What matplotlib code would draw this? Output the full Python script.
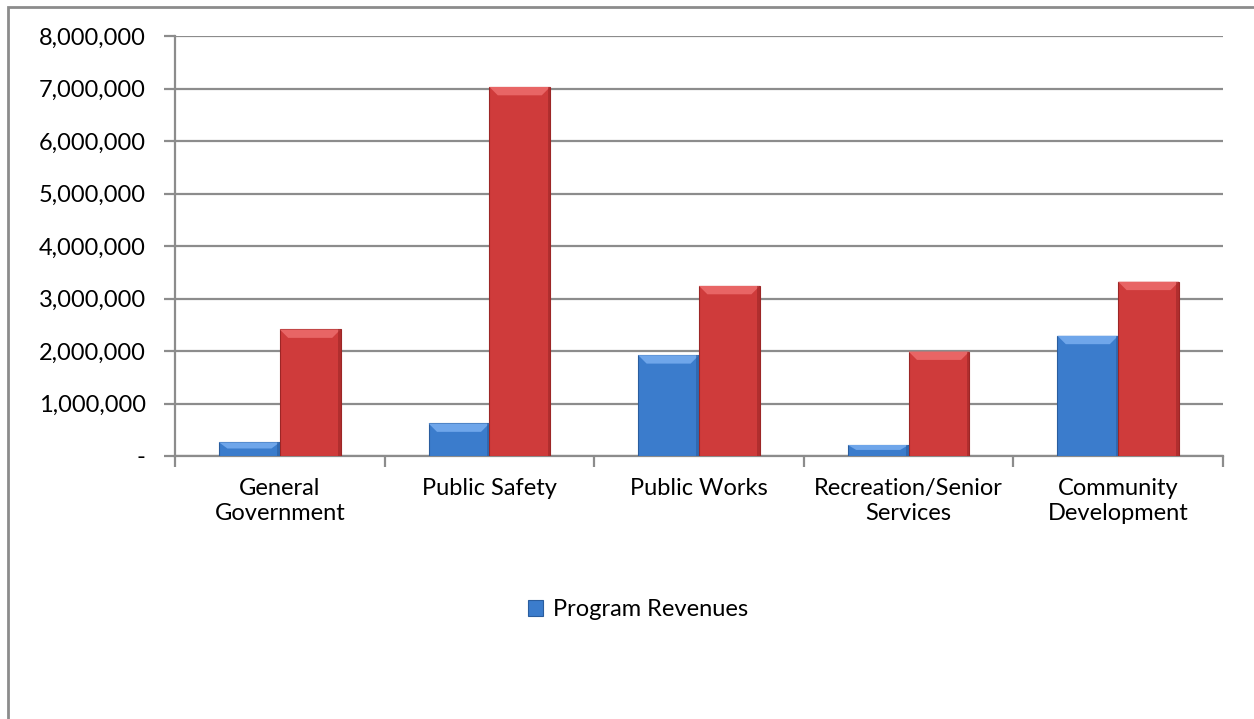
import numpy as np
import matplotlib
matplotlib.use("Agg")
import matplotlib.pyplot as plt
from matplotlib.patches import Polygon, Rectangle
from matplotlib.ticker import FuncFormatter, FixedLocator

# dane z wykresu
categories = ["General\nGovernment", "Public Safety", "Public Works",
              "Recreation/Senior\nServices", "Community\nDevelopment"]
program_revenues = [260000, 620000, 1920000, 210000, 2290000]
expenses = [2410000, 7030000, 3240000, 1990000, 3320000]
legend_label = "Program Revenues"

y_ticks = np.arange(0, 8000001, 1000000)

plt.rcParams['font.family'] = ['Lato', 'DejaVu Sans']

fig = plt.figure(figsize=(12.54, 7.19), dpi=100)
ax = fig.add_axes([175/1254, 1-456/719, 1048/1254, 420/719])

# ramka wykresu (tylko lewa i górna krawędź widoczna)
fig.patches.append(Rectangle((8/1254, -0.1), 1.2, 1-7/719+0.1, transform=fig.transFigure,
                             fill=False, edgecolor="#8c8c8c", linewidth=2))

x = np.arange(len(categories))
w = 0.29

def bevel_bars(xs, vals, face, light, dark):
    bars = ax.bar(xs, vals, width=w, color=face, edgecolor=dark, linewidth=0.8, zorder=3)
    bh = 160000  # wysokość skosu
    bw = 0.04
    for xc, v in zip(xs, vals):
        x0, x1 = xc - w/2, xc + w/2
        h = min(bh, v * 0.45)
        ax.add_patch(Polygon([[x0, v], [x1, v], [x1 - bw, v - h], [x0 + bw, v - h]],
                             closed=True, facecolor=light, edgecolor="none", zorder=4))
        ax.add_patch(Polygon([[x1, v], [x1, 0], [x1 - 0.012, 0], [x1 - 0.012, v]],
                             closed=True, facecolor=dark, edgecolor="none", alpha=0.6, zorder=4))
    return bars

b1 = bevel_bars(x - w/2, program_revenues, "#3b7ccc", "#6fa6ea", "#2a5d9e")
b2 = bevel_bars(x + w/2, expenses, "#cf3b3b", "#e86565", "#9c2626")

ax.set_xlim(-0.5, len(categories) - 0.5)
ax.set_ylim(0, 8000000)
ax.set_yticks(y_ticks)
ax.yaxis.set_major_formatter(FuncFormatter(lambda v, p: "-" if v == 0 else f"{v:,.0f}"))
ax.grid(axis="y", color="#8c8c8c", linewidth=1.6, zorder=0)
ax.set_axisbelow(True)

ax.set_xticks(x)
ax.set_xticklabels(categories, fontsize=17, linespacing=1.25)
ax.xaxis.set_minor_locator(FixedLocator(np.arange(-0.5, len(categories), 1.0)))
ax.tick_params(axis="x", which="major", length=0, pad=16)
ax.tick_params(axis="x", which="minor", length=8, width=1.6, color="#8c8c8c")
ax.tick_params(axis="y", length=8, width=1.6, color="#8c8c8c", labelsize=17, pad=13)

for s in ["top", "right"]:
    ax.spines[s].set_visible(False)
for s in ["left", "bottom"]:
    ax.spines[s].set_color("#8c8c8c")
    ax.spines[s].set_linewidth(1.6)

leg = fig.legend([b1], [legend_label], loc="center", bbox_to_anchor=(638/1254, 1-610/719),
                 frameon=False, fontsize=17, handlelength=0.65, handleheight=0.65,
                 handletextpad=0.4)

plt.savefig("out.png", dpi=100)
